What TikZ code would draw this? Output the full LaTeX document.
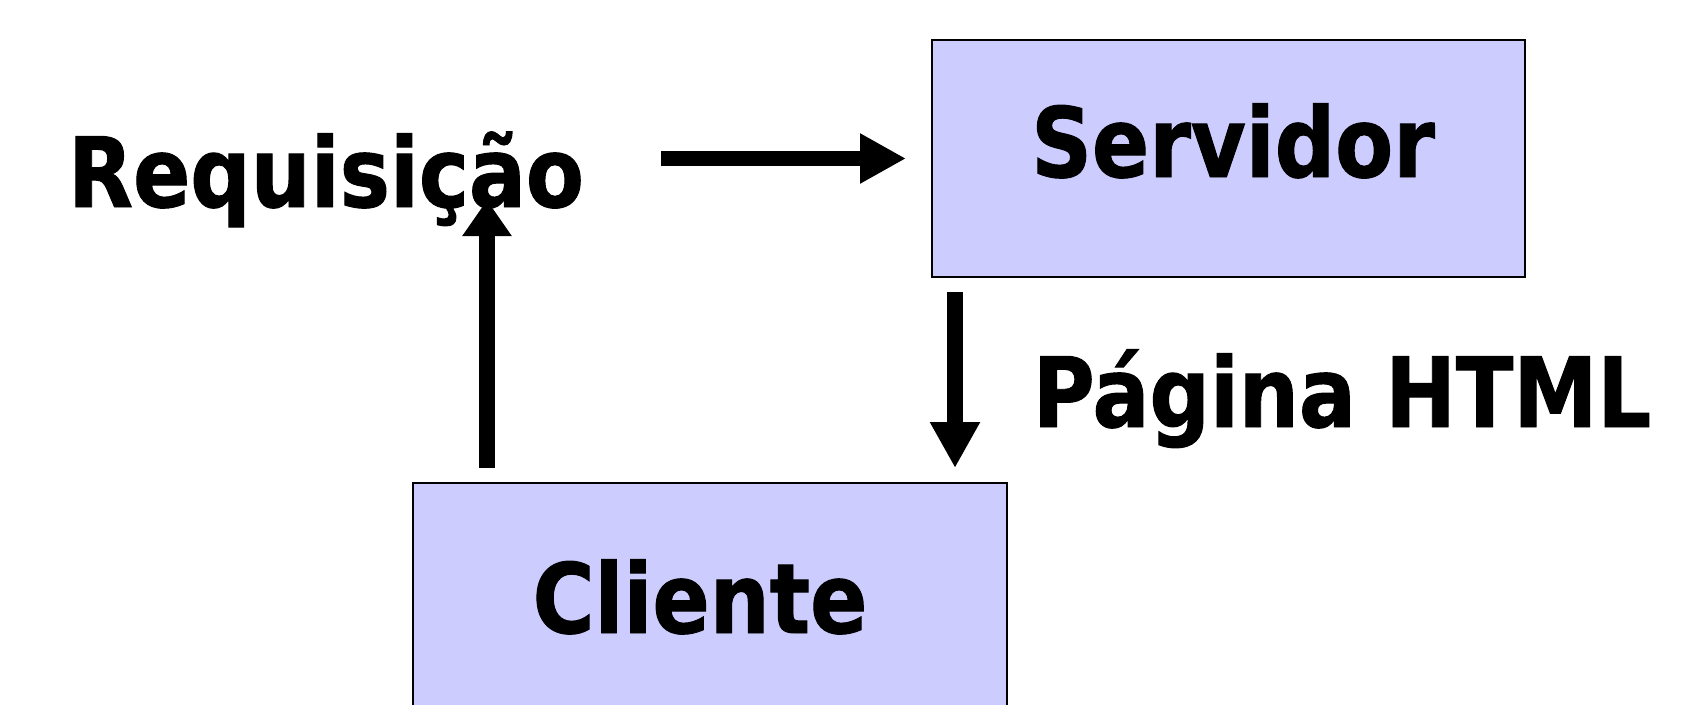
\documentclass[tikz,border=0pt]{standalone}
\usepackage{fontspec}
\newfontfamily\lblfont{DejaVu Sans}[FakeStretch=0.87,FakeBold=1]
\usetikzlibrary{arrows.meta}
\definecolor{boxfill}{HTML}{CCCCFF}
\begin{document}
\begin{tikzpicture}[x=1pt,y=-1pt,
  box/.style={draw=black, line width=2pt, fill=boxfill, inner sep=0pt},
  lbl/.style={font=\lblfont\bfseries\fontsize{97}{100}\selectfont, inner sep=0pt, anchor=base},
  bigarrow/.style={line width=15.5pt, -{Triangle[length=46pt,width=47pt]}},
  uparrow/.style={line width=15.5pt, -{Triangle[length=36pt,width=47pt]}}]
\useasboundingbox (0,0) rectangle (1688,704);
\clip (0,0) rectangle (1688,704);
\node[box, minimum width=593pt, minimum height=237pt] (serv) at (1228.5,158.5) {};
\node[box, minimum width=594pt, minimum height=260pt] (cli) at (710,613) {};
\node[lbl] (servt) at (1233,177) {Servidor};
\node[lbl] (clit) at (700,633) {Cliente};
\node[lbl] (req) at (326,207) {Requisição};
\node[lbl] (pag) at (1342,427) {Página HTML};
% connectors
\coordinate (hs) at ([xshift=77pt]req.east |- serv.west);
\coordinate (he) at ([xshift=-25pt]serv.west);
\draw[bigarrow] (hs) -- (he);
\coordinate (us) at ([xshift=75pt,yshift=14pt]cli.north west);
\coordinate (ue) at (us |- 0,200);
\draw[uparrow] (us) -- (ue);
\coordinate (ds) at ([xshift=24pt,yshift=-14pt]serv.south west);
\coordinate (de) at ([yshift=14pt]ds |- cli.north);
\draw[bigarrow] (ds) -- (de);
\end{tikzpicture}
\end{document}
